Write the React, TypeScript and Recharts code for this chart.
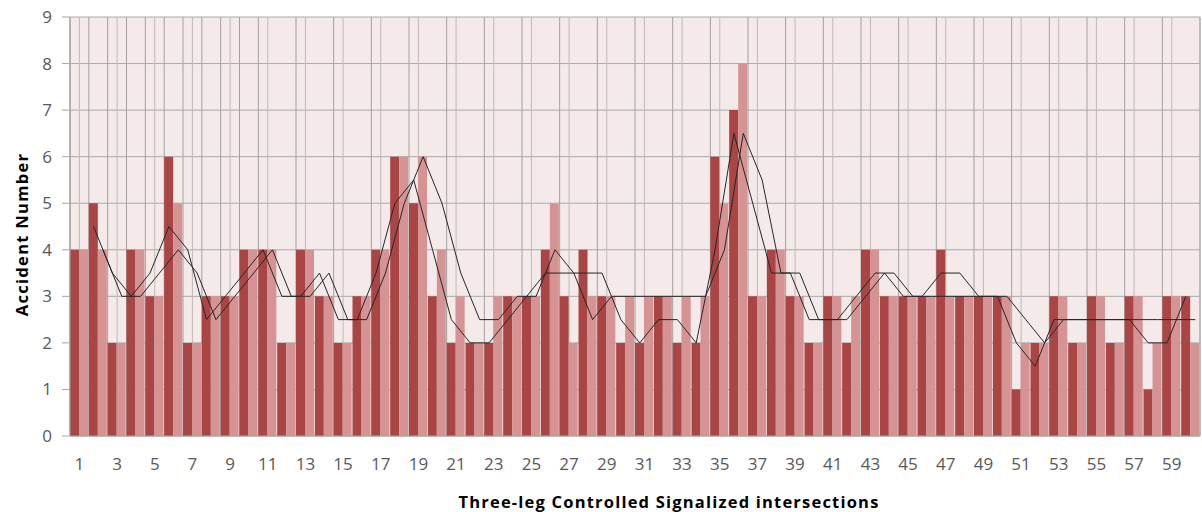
import React from 'react';
import {
  ComposedChart,
  Bar,
  Line,
  XAxis,
  YAxis,
  CartesianGrid,
} from 'recharts';

// intersection ids 1..60
const intersections = [
  1, 2, 3, 4, 5, 6, 7, 8, 9, 10, 11, 12, 13, 14, 15, 16, 17, 18, 19, 20,
  21, 22, 23, 24, 25, 26, 27, 28, 29, 30, 31, 32, 33, 34, 35, 36, 37, 38, 39, 40,
  41, 42, 43, 44, 45, 46, 47, 48, 49, 50, 51, 52, 53, 54, 55, 56, 57, 58, 59, 60,
];

// dark columns
const darkCounts = [
  4, 5, 2, 4, 3, 6, 2, 3, 3, 4, 4, 2, 4, 3, 2, 3, 4, 6, 5, 3,
  2, 2, 2, 3, 3, 4, 3, 4, 3, 2, 2, 3, 2, 2, 6, 7, 3, 4, 3, 2,
  3, 2, 4, 3, 3, 3, 4, 3, 3, 3, 1, 2, 3, 2, 3, 2, 3, 1, 3, 3,
];

// light columns
const lightCounts = [
  4, 4, 2, 4, 3, 5, 2, 3, 3, 4, 4, 2, 4, 3, 2, 3, 4, 6, 6, 4,
  3, 2, 3, 3, 3, 5, 2, 3, 3, 3, 3, 3, 3, 3, 5, 8, 3, 4, 3, 2,
  3, 3, 4, 3, 3, 3, 3, 3, 3, 3, 2, 2, 3, 2, 3, 2, 3, 2, 3, 2,
];

// black trend lines (first point missing)
const darkTrend = [
  null, 4.5, 3.5, 3, 3.5, 4.5, 4, 2.5, 3, 3.5, 4, 3, 3, 3.5, 2.5, 2.5, 3.5, 5, 5.5, 4,
  2.5, 2, 2, 2.5, 3, 3.5, 3.5, 3.5, 3.5, 2.5, 2, 2.5, 2.5, 2, 4, 6.5, 5, 3.5, 3.5, 2.5,
  2.5, 2.5, 3, 3.5, 3, 3, 3.5, 3.5, 3, 3, 2, 1.5, 2.5, 2.5, 2.5, 2.5, 2.5, 2, 2, 3,
];

const lightTrend = [
  null, 4, 3, 3, 3.5, 4, 3.5, 2.5, 3, 3.5, 4, 3, 3, 3.5, 2.5, 2.5, 3.5, 5, 6, 5,
  3.5, 2.5, 2.5, 3, 3, 4, 3.5, 2.5, 3, 3, 3, 3, 3, 3, 4, 6.5, 5.5, 3.5, 3.5, 2.5,
  2.5, 3, 3.5, 3.5, 3, 3, 3, 3, 3, 3, 2.5, 2, 2.5, 2.5, 2.5, 2.5, 2.5, 2.5, 2.5, 2.5,
];

const yTicks = [0, 1, 2, 3, 4, 5, 6, 7, 8, 9];

const rows = intersections.map((id, i) => ({
  id: String(id),
  dark: darkCounts[i],
  light: lightCounts[i],
}));

// trend points sit over the centre of their own column (left / right half)
const darkPoints = intersections.map((id, i) => ({ x: id - 0.75, y: darkTrend[i] }));
const lightPoints = intersections.map((id, i) => ({ x: id - 0.25, y: lightTrend[i] }));
const boundaries = [0, ...intersections];

const font = '"Open Sans", "Noto Sans", sans-serif';

export default function App() {
  return (
    <div style={{ position: 'absolute', left: 0, top: 0, width: 1202, height: 512, background: '#fff' }}>
      <ComposedChart
        width={1202}
        height={512}
        data={rows}
        margin={{ top: 17, right: 2, bottom: 0, left: 0 }}
        barCategoryGap={0}
        barGap={0}
      >
        <CartesianGrid
          fill="#f4eaea"
          stroke="#aaaaaa"
          vertical={false}
        />
        <CartesianGrid
          horizontal={false}
          stroke="#c2b8b8"
        />
        <CartesianGrid
          xAxisId="num"
          horizontal={false}
          stroke="#a4a0a0"
        />
        <XAxis
          dataKey="id"
          interval={1}
          tickLine={false}
          tickSize={0}
          tickMargin={22}
          axisLine={{ stroke: '#a6a6a6' }}
          height={76}
          tick={{ fill: '#595959', fontSize: 17, fontFamily: font }}
          label={{
            value: 'Three-leg Controlled Signalized intersections',
            position: 'insideBottom',
            offset: 4,
            dx: 34,
            fill: '#000',
            fontSize: 16.5,
            fontWeight: 700,
            fontFamily: font,
            letterSpacing: 1.2,
          }}
        />
        <XAxis
          xAxisId="num"
          type="number"
          dataKey="x"
          domain={[0, 60]}
          ticks={boundaries}
          allowDataOverflow
          hide
        />
        <YAxis
          domain={[0, 9]}
          ticks={yTicks}
          width={70}
          tickSize={8}
          tickMargin={10}
          tickLine={{ stroke: '#a6a6a6' }}
          axisLine={{ stroke: '#a6a6a6' }}
          tick={{ fill: '#595959', fontSize: 17, fontFamily: font }}
          label={{
            value: 'Accident Number',
            angle: -90,
            position: 'center',
            dx: -13,
            dy: 8,
            fill: '#000',
            fontSize: 16.5,
            fontWeight: 700,
            fontFamily: font,
            letterSpacing: 1.3,
          }}
        />
        <Bar dataKey="dark" fill="#aa4545" isAnimationActive={false} />
        <Bar dataKey="light" fill="#d69393" isAnimationActive={false} />
        <Line
          xAxisId="num"
          data={darkPoints}
          dataKey="y"
          stroke="#262626"
          strokeWidth={1}
          dot={false}
          activeDot={false}
          isAnimationActive={false}
        />
        <Line
          xAxisId="num"
          data={lightPoints}
          dataKey="y"
          stroke="#262626"
          strokeWidth={1}
          dot={false}
          activeDot={false}
          isAnimationActive={false}
        />
      </ComposedChart>
    </div>
  );
}
